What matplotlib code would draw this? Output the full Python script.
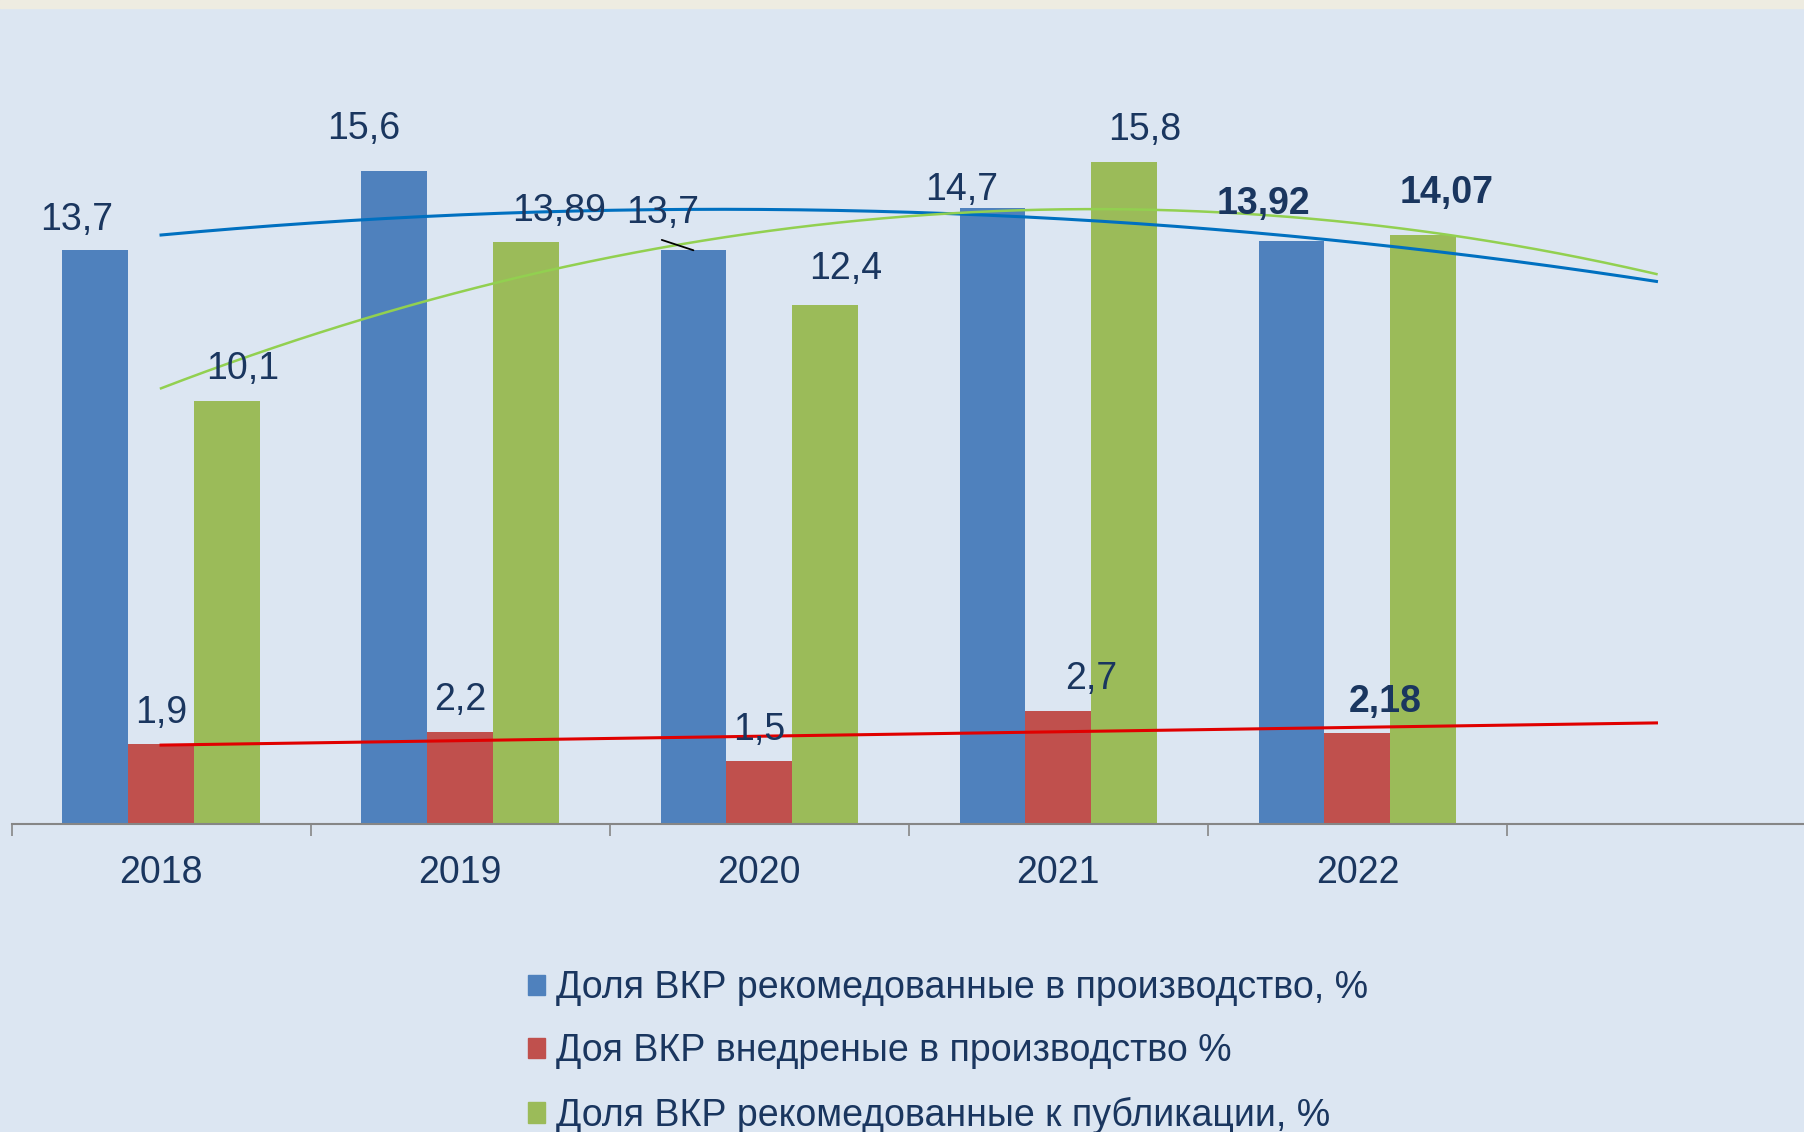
import numpy as np
import matplotlib
matplotlib.use('Agg')
import matplotlib.pyplot as plt
from matplotlib.patches import Patch, Rectangle

# ------------------------
# data
# ------------------------
years = ['2018', '2019', '2020', '2021', '2022']
rec_prod = [13.7, 15.6, 13.7, 14.7, 13.92]     # рекомедованные в производство
impl_prod = [1.9, 2.2, 1.5, 2.7, 2.18]         # внедреные в производство
rec_pub = [10.1, 13.89, 12.4, 15.8, 14.07]     # рекомедованные к публикации

series_names = ['Доля ВКР рекомедованные в производство, %',
                'Доя ВКР внедреные в производство %',
                'Доля ВКР рекомедованные к публикации, %']

# ------------------------
# style
# ------------------------
W, H = 1804, 1132
navy = '#1a365f'
colors = ['#4F81BD', '#C0504D', '#9BBB59']
trend_colors = ['#0070C0', '#E00000', '#92D050']
trend_order = [2, 1, 2]
bar_w = 0.22
fs = 27
plt.rcParams['font.family'] = ['Liberation Sans', 'DejaVu Sans']

# label offsets (points, relative to top centre of each bar)
k = 1.1505 * 0.72
offsets = [
    [(-16.5, 26), (-27, 36), (-26.5, 32), (-27, 16), (-24.5, 32)],
    [(0, 27), (0, 28), (0, 27), (29, 28), (24, 27)],
    [(14, 28), (29, 27), (18, 31), (18, 28), (20.5, 36)],
]

fig = plt.figure(figsize=(W / 100, H / 100), dpi=100)
fig.patch.set_facecolor('#DCE6F2')
fig.patches.append(Rectangle((0, 1 - 8 / H), 1, 8 / H, transform=fig.transFigure,
                             color='#EEECE1', zorder=0))

ax = fig.add_axes([11.5 / W, 1 - 824 / H, (1806 - 11.5) / W, 753.8 / H])
ax.set_facecolor('none')
ax.set_xlim(-0.5, 5.5)
ax.set_ylim(0, 18)

x = np.arange(len(years))
data = [rec_prod, impl_prod, rec_pub]
for i, vals in enumerate(data):
    xs = x + (i - 1) * bar_w
    ax.bar(xs, vals, width=bar_w, color=colors[i], zorder=2)
    for j, v in enumerate(vals):
        dx, dy = offsets[i][j]
        bold = j == len(vals) - 1
        ax.annotate(('%g' % v).replace('.', ','), (xs[j], v),
                    xytext=(dx * k, dy * k), textcoords='offset points',
                    ha='center', va='center', fontsize=fs, color=navy,
                    fontweight='bold' if bold else 'normal', zorder=5)

# leader line for 2020 blue label
ax.annotate('', xy=(x[2] - bar_w, rec_prod[2]), xytext=(-27.5 * k, 9 * k),
            textcoords='offset points',
            arrowprops=dict(arrowstyle='-', color='black', lw=1.3,
                            shrinkA=0, shrinkB=0), zorder=6)

# trendlines (forecast one period forward)
xt = np.linspace(0, 5, 200)
for i, vals in enumerate(data):
    p = np.polyfit(x, vals, trend_order[i])
    ax.plot(xt, np.polyval(p, xt), color=trend_colors[i],
            lw=2.2 if i < 2 else 1.8, zorder=4)

# axes
for s in ['left', 'right', 'top']:
    ax.spines[s].set_visible(False)
ax.spines['bottom'].set_color('#868686')
ax.spines['bottom'].set_linewidth(1.5)
ax.set_yticks([])
ax.set_xticks(np.arange(-0.5, 6, 1))
ax.tick_params(axis='x', which='major', length=8.3, width=1.2, color='#868686',
               labelbottom=False, direction='out')
ax.set_xticks(x, labels=years, minor=True)
ax.tick_params(axis='x', which='minor', length=0, pad=22, labelsize=fs,
               labelcolor=navy)

handles = [Patch(color=c) for c in colors]
leg = fig.legend(handles, series_names, loc='upper left',
                 bbox_to_anchor=(528 / W, 1 - 970 / H), frameon=False,
                 fontsize=fs, handlelength=0.45, handleheight=0.45,
                 handletextpad=0.3, labelspacing=0.73, borderpad=0,
                 borderaxespad=0)
for t in leg.get_texts():
    t.set_color(navy)

fig.savefig('out.png', dpi=100, facecolor=fig.get_facecolor())
